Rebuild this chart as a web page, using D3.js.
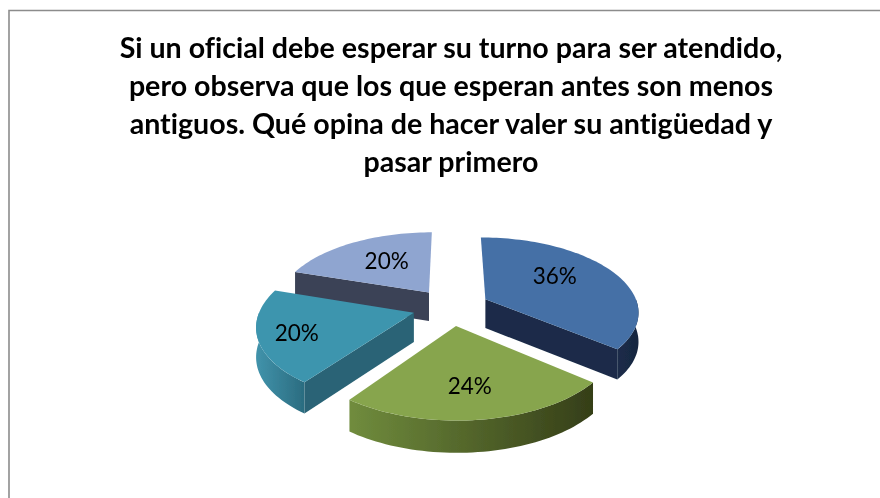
<!DOCTYPE html>
<html>
<head>
<meta charset="utf-8">
<script src="https://cdn.jsdelivr.net/npm/d3@7/dist/d3.min.js"></script>
<style>
  html, body { margin: 0; padding: 0; background: #fff; }
  svg { display: block; }
  text { font-variant-ligatures: none; }
</style>
</head>
<body>
<div id="chart"></div>
<script>
const titleLines = [
  'Si un oficial debe esperar su turno para ser atendido,',
  'pero observa que los que esperan antes son menos',
  'antiguos. Qué opina de hacer valer su antigüedad y',
  'pasar primero'
];
const categories = ['A', 'B', 'C', 'D'];
const shares = [36, 24, 20, 20];

const topColors = ['#4570a6', '#87a54d', '#3e95ae', '#8fa5d0'];
const cutColors = ['#1a2c48', '#3d471f', '#2a6476', '#3a4257'];
const wallLight = ['#1b2d4a', '#708c3d', '#4193ab', '#4a5470'];
const wallDark = ['#18263f', '#353e18', '#2b6c80', '#343b4e'];

const width = 880, height = 498;
const svg = d3.select('#chart').append('svg').attr('width', width).attr('height', height);
const defs = svg.append('defs');

// the source is a slightly soft screenshot
defs.append('filter').attr('id', 'soft')
  .append('feGaussianBlur').attr('stdDeviation', 0.6);
defs.append('filter').attr('id', 'softText')
  .append('feGaussianBlur').attr('stdDeviation', 0.35);

// ── Chart frame ──
svg.append('path')
  .attr('d', `M9,${height} V10.5 H${width}`)
  .attr('fill', 'none').attr('stroke', '#8c8c8c').attr('stroke-width', 1.6);

// ── Title ──
svg.append('g').attr('filter', 'url(#softText)')
  .selectAll('text').data(titleLines).join('text')
  .attr('x', 451)
  .attr('y', (d, i) => 58 + i * 38)
  .attr('text-anchor', 'middle')
  .attr('font-family', 'Lato, sans-serif')
  .attr('font-weight', 700)
  .attr('font-size', 28.6)
  .attr('fill', '#000')
  .text(d => d);

// ── Projection: exploded pie lying on a tilted plane, with some perspective ──
const cx = 451, cy = 307, radius = 153, explode = 38.6;
const tilt = 0.48, persp = 0.001, depth = 29;

function project(u, v, h) {
  const s = 1 / (1 - persp * v);
  return [cx + u * s, cy + v * tilt * s + h * depth * Math.sqrt(s)];
}

const pie = d3.pie().sort(null).value(d => d);
const arcs = pie(shares).map((a, i) => {
  const mid = (a.startAngle + a.endAngle) / 2;
  return { ...a, i, ou: explode * Math.sin(mid), ov: -explode * Math.cos(mid), mid };
});

const pointAt = (a, angle, r, h) =>
  project(a.ou + r * Math.sin(angle), a.ov - r * Math.cos(angle), h);

const arcAngles = (from, to) => {
  const n = Math.max(2, Math.ceil((to - from) / 0.03));
  return d3.range(n + 1).map(k => from + (to - from) * k / n);
};

const line = d3.line().curve(d3.curveLinear);

const slices = svg.append('g').attr('filter', 'url(#soft)')
  .selectAll('g')
  .data(arcs.slice().sort((a, b) => a.ov - b.ov))
  .join('g');

slices.each(function(a) {
  const g = d3.select(this);
  const apexTop = pointAt(a, 0, 0, 0), apexBot = pointAt(a, 0, 0, 1);

  // outer wall, only the part that faces the viewer (90°..270°)
  const wallFrom = Math.max(a.startAngle, Math.PI / 2);
  const wallTo = Math.min(a.endAngle, Math.PI * 1.5);
  if (wallTo > wallFrom) {
    const topEdge = arcAngles(wallFrom, wallTo).map(t => pointAt(a, t, radius, 0));
    const botEdge = arcAngles(wallFrom, wallTo).map(t => pointAt(a, t, radius, 1)).reverse();
    const xs = d3.extent(botEdge, p => p[0]);
    const grad = defs.append('linearGradient').attr('id', `wall-${a.i}`)
      .attr('gradientUnits', 'userSpaceOnUse')
      .attr('x1', xs[0]).attr('x2', xs[1]).attr('y1', 0).attr('y2', 0);
    grad.append('stop').attr('offset', '0%').attr('stop-color', wallLight[a.i]);
    grad.append('stop').attr('offset', '100%').attr('stop-color', wallDark[a.i]);
    g.append('path')
      .attr('d', line(topEdge.concat(botEdge)) + 'Z')
      .attr('fill', `url(#wall-${a.i})`);
  }

  // cut faces, only those turned toward the viewer
  const cuts = [];
  if (Math.sin(a.startAngle) < -1e-6) cuts.push(a.startAngle);
  if (Math.sin(a.endAngle) > 1e-6) cuts.push(a.endAngle);
  cuts.forEach(t => {
    g.append('path')
      .attr('d', line([apexTop, pointAt(a, t, radius, 0), pointAt(a, t, radius, 1), apexBot]) + 'Z')
      .attr('fill', cutColors[a.i]);
  });

  // top surface
  const rim = arcAngles(a.startAngle, a.endAngle).map(t => pointAt(a, t, radius, 0));
  g.append('path')
    .attr('d', line([apexTop].concat(rim)) + 'Z')
    .attr('fill', topColors[a.i]);
});

// ── Percentage labels ──
const labelNudge = [[-8, -5.5], [0, 8], [-25, 6], [5, 0]];
svg.append('g').attr('filter', 'url(#softText)')
  .selectAll('text').data(arcs).join('text')
  .attr('x', a => pointAt(a, a.mid, radius * 0.6, 0)[0] + labelNudge[a.i][0])
  .attr('y', a => pointAt(a, a.mid, radius * 0.6, 0)[1] + labelNudge[a.i][1])
  .attr('dy', '0.35em')
  .attr('text-anchor', 'middle')
  .attr('font-family', 'Lato, sans-serif')
  .attr('font-size', 22.5)
  .attr('fill', '#000')
  .text(a => a.data + '%');
</script>
</body>
</html>
